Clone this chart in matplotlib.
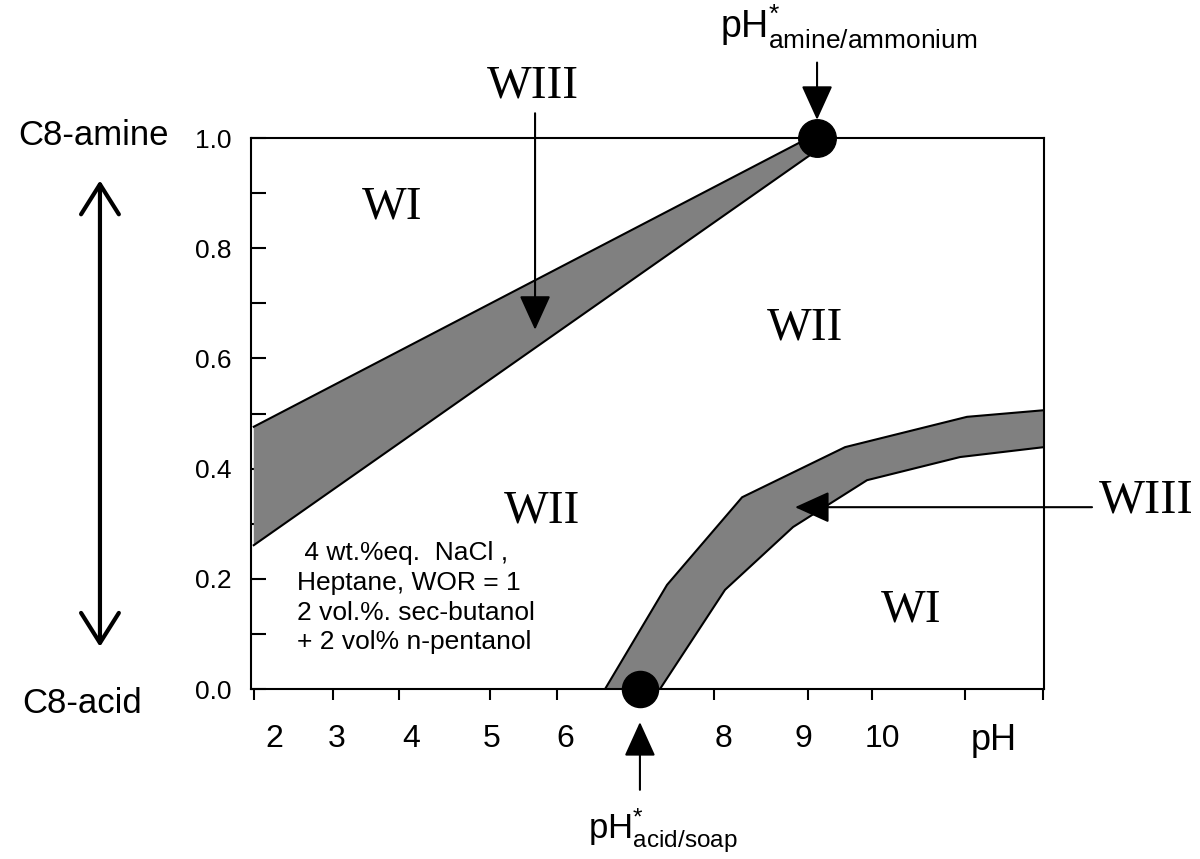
import numpy as np
import matplotlib.pyplot as plt

plt.rcParams['font.family'] = ['Liberation Sans', 'DejaVu Sans']
plt.rcParams['mathtext.fontset'] = 'custom'
plt.rcParams['mathtext.rm'] = 'Liberation Sans'
plt.rcParams['mathtext.it'] = 'Liberation Sans:italic'
plt.rcParams['mathtext.bf'] = 'Liberation Sans:bold'

# axis labels / ticks
ph_labels = ['2', '3', '4', '5', '6', '8', '9', '10']
ph_label_pos = [2.2, 3.0, 3.95, 4.98, 5.93, 7.96, 8.99, 10.0]
ph_tick_marks = [1.934, 2.95, 3.80, 4.965, 5.83, 7.84, 9.05, 9.87, 11.07, 12.068]
frac_major = [0.0, 0.2, 0.4, 0.6, 0.8, 1.0]
frac_labels = ['0.0', '0.2', '0.4', '0.6', '0.8', '1.0']
frac_minor = [0.1, 0.3, 0.5, 0.7, 0.9]

# WIII band on the amine side (upper / lower boundary)
amine_up_ph = [1.93, 8.93]
amine_up_frac = [0.476, 0.991]
amine_lo_ph = [1.93, 9.075]
amine_lo_frac = [0.261, 0.969]

# WIII band on the acid side
acid_up_ph = [6.442, 7.238, 8.202, 9.525, 11.091, 12.08]
acid_up_frac = [0.0, 0.189, 0.348, 0.439, 0.494, 0.506]
acid_lo_ph = [7.148, 7.983, 8.857, 9.807, 11.002, 12.08]
acid_lo_frac = [0.0, 0.180, 0.294, 0.379, 0.421, 0.439]

# characteristic points
ph_star_amine = 9.165
ph_star_acid = 6.89

serif = ['Liberation Serif', 'DejaVu Serif']
band_color = '#808080'

fig = plt.figure(figsize=(12, 8.59), dpi=100)
ax = fig.add_axes([0.2092, 0.1979, 0.6608, 0.6414])
ax.set_xlim(1.895, 12.08)
ax.set_ylim(0, 1)
ax.set_axisbelow(True)

for s in ax.spines.values():
    s.set_linewidth(1.5)

# x axis: irregular tick marks, labels without marks
ax.set_xticks(ph_label_pos, ph_labels)
ax.set_xticks(ph_tick_marks, minor=True)
ax.tick_params(axis='x', which='major', length=0, pad=25, labelsize=23)
ax.tick_params(axis='x', which='minor', direction='out', length=8, width=1.5)

# y axis: ticks inside
ax.set_yticks(frac_major, frac_labels)
ax.set_yticks(frac_minor, minor=True)
ax.tick_params(axis='y', which='both', direction='in', length=11, width=1.5)
ax.tick_params(axis='y', which='major', pad=14, labelsize=19)

# amine-side band
poly_x = amine_up_ph + [ph_star_amine] + amine_lo_ph[::-1]
poly_y = amine_up_frac + [1.0] + amine_lo_frac[::-1]
ax.fill(poly_x, poly_y, color=band_color, lw=0, zorder=1)
ax.plot(amine_up_ph, amine_up_frac, color='k', lw=1.5, zorder=2)
ax.plot(amine_lo_ph, amine_lo_frac, color='k', lw=1.5, zorder=2)

# acid-side band
poly_x = acid_up_ph + acid_lo_ph[::-1]
poly_y = acid_up_frac + acid_lo_frac[::-1]
ax.fill(poly_x, poly_y, color=band_color, lw=0, zorder=1)
ax.plot(acid_up_ph, acid_up_frac, color='k', lw=1.5, zorder=2)
ax.plot(acid_lo_ph, acid_lo_frac, color='k', lw=1.5, zorder=2)

# pH* points
ax.plot([ph_star_amine], [1.0], 'o', ms=27, color='k', clip_on=False, zorder=5)
ax.plot([ph_star_acid], [0.0], 'o', ms=26, color='k', clip_on=False, zorder=5)

arrow = dict(arrowstyle='-|>,head_length=1.08,head_width=0.49', mutation_scale=20,
             lw=1.5, color='k', shrinkA=0, shrinkB=0)

# phase labels
ax.text(3.706, 0.854, 'WI', family=serif, fontsize=34, ha='center', va='baseline')
ax.text(9.011, 0.634, 'WII', family=serif, fontsize=34, ha='center', va='baseline')
ax.text(5.633, 0.302, 'WII', family=serif, fontsize=34, ha='center', va='baseline')
ax.text(10.372, 0.1225, 'WI', family=serif, fontsize=34, ha='center', va='baseline')

ax.text(5.517, 1.074, 'WIII', family=serif, fontsize=34, ha='center', va='baseline',
        clip_on=False)
ax.annotate('', xy=(5.543, 0.652), xytext=(5.543, 1.045), arrowprops=arrow,
            annotation_clip=False)

ax.text(13.39, 0.321, 'WIII', family=serif, fontsize=35, ha='center', va='baseline',
        clip_on=False)
ax.annotate('', xy=(8.882, 0.330), xytext=(12.697, 0.330), arrowprops=arrow,
            annotation_clip=False)

# pH* markers
ax.annotate('', xy=(ph_star_amine, 1.033), xytext=(ph_star_amine, 1.137),
            arrowprops=arrow, annotation_clip=False)
ax.text(7.919, 1.181, r'pH$^{*}_{\rm amine/ammonium}$', fontsize=27,
        ha='left', va='baseline', clip_on=False)

ax.annotate('', xy=(ph_star_acid, -0.060), xytext=(ph_star_acid, -0.183),
            arrowprops=arrow, annotation_clip=False)
ax.text(6.224, -0.272, r'pH$^{*}_{\rm acid/soap}$', fontsize=25, ha='left',
        va='baseline', clip_on=False)

ax.text(11.43, -0.111, 'pH', fontsize=26, ha='center', va='baseline', clip_on=False)

# conditions
ax.text(2.486, 0.268,
        ' 4 wt.%eq.  NaCl ,\nHeptane, WOR = 1\n2 vol.%. sec-butanol\n+ 2 vol% n-pentanol',
        fontsize=19, ha='left', va='top', linespacing=1.3)

# composition double arrow
ax.annotate('', xy=(0.0833, 0.790), xytext=(0.0833, 0.247),
            xycoords='figure fraction', textcoords='figure fraction',
            arrowprops=dict(arrowstyle='<->,head_length=1.08,head_width=0.68',
                            mutation_scale=20, lw=3, color='k',
                            shrinkA=0, shrinkB=0),
            annotation_clip=False)
fig.text(0.0775, 0.8428, 'C8-amine', fontsize=25, ha='center', va='center')
fig.text(0.0683, 0.1816, 'C8-acid', fontsize=25, ha='center', va='center')

fig.savefig('out.png', dpi=100)
